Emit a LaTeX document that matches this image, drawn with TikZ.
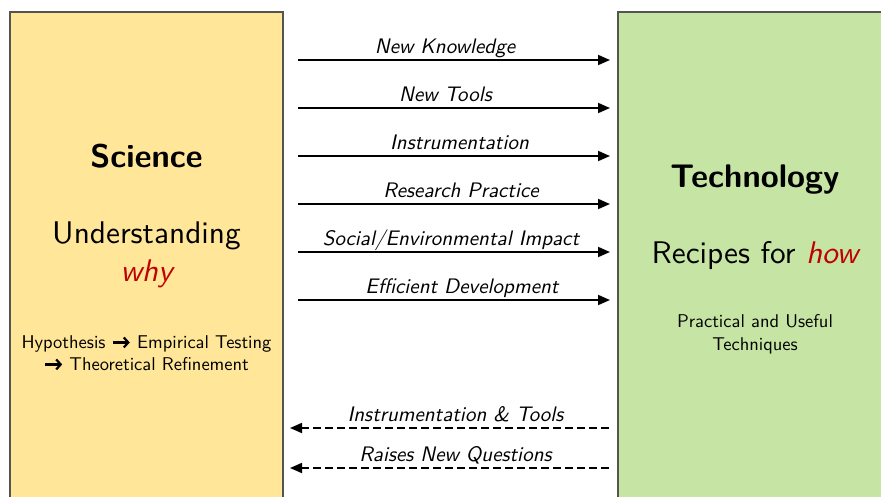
\documentclass[tikz,border=0pt]{standalone}
\usepackage{fontspec}
% one optical size of Latin Modern Sans for every text size
\setsansfont{lmsans10-regular.otf}[BoldFont=lmsans10-bold.otf,ItalicFont=lmsans10-oblique.otf,BoldItalicFont=lmsans10-boldoblique.otf]
\usetikzlibrary{arrows.meta}
\definecolor{sciencefill}{RGB}{255,230,153}
\definecolor{techfill}{RGB}{198,229,164}
\definecolor{panelline}{RGB}{85,85,80}
\definecolor{accent}{RGB}{192,0,0}
% small barbed arrow used inside running text
\newcommand\stepto{\tikz[baseline=-0.3em]\draw[line width=2.2pt,-{Straight Barb[length=4.5pt,width=10pt]}] (0pt,0pt) -- (17pt,0pt);}
\newcommand\fsz[1]{\fontsize{#1}{1.2\dimexpr#1pt\relax}\selectfont}
\begin{document}
\begin{tikzpicture}[x=1pt,y=-1pt,font=\sffamily,
  panel/.style={draw=panelline,line width=1.2pt},
  flow/.style={line width=1.8pt,-{Triangle[length=12pt,width=10pt]}},
  feedback/.style={flow,dash pattern=on 8pt off 4pt},
  lbl/.style={anchor=base,inner sep=0pt,font=\sffamily\itshape\fsz{21}},
  title/.style={anchor=base,inner sep=0pt,font=\sffamily\bfseries\fsz{32.7}},
  motto/.style={anchor=base,inner sep=0pt,font=\sffamily\fsz{31.3}},
  note/.style={anchor=base,inner sep=0pt,align=center,font=\sffamily\fsz{18.5}}]
\useasboundingbox (0,0) rectangle (881,496);
\clip (0,0) rectangle (881,496);

% the two domains
\filldraw[panel,fill=sciencefill] (10,12) rectangle (283,520);
\filldraw[panel,fill=techfill] (618,12) rectangle (892,520);

% Science panel
\node[title] (sci) at (146.5,167) {Science};
\node[motto] (und) at (146.5,243) {Understanding};
\node[motto,font=\sffamily\itshape\fsz{31.3},text=accent] (why) at (146.5,281) {why};
\node[note] (hyp1) at (146.5,348) {Hypothesis \stepto\ Empirical Testing};
\node[note] (hyp2) at (146.5,370) {\stepto\ Theoretical Refinement};

% Technology panel
\node[title] (tech) at (755,187) {Technology};
\node[motto] (rec) at (755,263) {Recipes for \textcolor{accent}{\itshape how}};
\node[note] (pr1) at (755,327) {Practical and Useful};
\node[note] (pr2) at (755,350) {Techniques};

% forward flows, science to technology
\foreach \n/\y in {1/60,2/108,3/156,4/204,5/252,6/300}{
  \coordinate (s\n) at (298,\y);
  \coordinate (t\n) at (610,\y);
  \draw[flow] (s\n) -- (t\n);
}
\node[lbl] (l1) at (445,53) {New Knowledge};
\node[lbl] (l2) at (445.5,101) {New Tools};
\node[lbl] (l3) at (459.5,149) {Instrumentation};
\node[lbl] (l4) at (461,197) {Research Practice};
\node[lbl] (l5) at (451,245) {Social/Environmental Impact};
\node[lbl] (l6) at (462,293) {Efficient Development};

% feedback flows, technology to science
\foreach \n/\y in {7/428,8/468}{
  \coordinate (t\n) at (609,\y);
  \coordinate (s\n) at (290,\y);
  \draw[feedback] (t\n) -- (s\n);
}
\node[lbl] (l7) at (455.5,421) {Instrumentation \& Tools};
\node[lbl] (l8) at (455.5,461) {Raises New Questions};
\end{tikzpicture}
\end{document}
